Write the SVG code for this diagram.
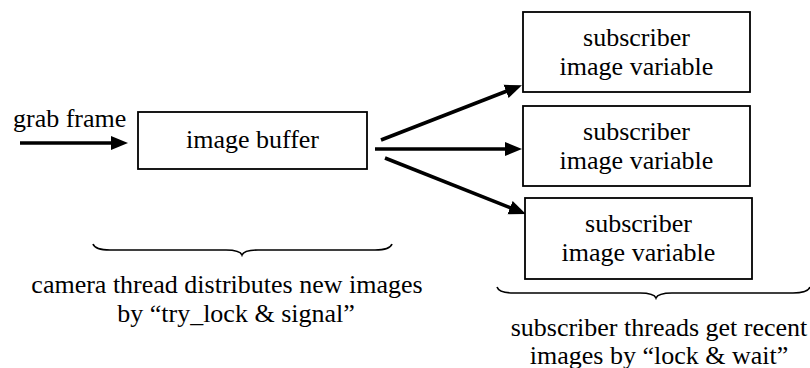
<svg xmlns="http://www.w3.org/2000/svg" width="810" height="368" viewBox="0 0 810 368">
<style>
.box{fill:#fff;stroke:#000;stroke-width:1.8}
text{font-family:'Liberation Serif',Tinos,'Times New Roman','DejaVu Serif',serif;font-size:26px;fill:#000}
.c{text-anchor:middle}
.arr{stroke:#000;stroke-width:3.5;fill:none;marker-end:url(#ah)}
.brace{stroke:#000;stroke-width:1.6;fill:none}
</style>
<defs>
<marker id="ah" markerUnits="userSpaceOnUse" markerWidth="20" markerHeight="16" refX="1" refY="8" orient="auto" viewBox="0 0 20 16">
<path d="M0,1 L17,8 L0,15 z" fill="#000"/>
</marker>
</defs>
<g id="connectors">
<line class="arr" x1="20" y1="143" x2="112" y2="143"/>
<line class="arr" x1="381" y1="140" x2="507" y2="91"/>
<line class="arr" x1="375" y1="149" x2="506" y2="149"/>
<line class="arr" x1="385" y1="158" x2="511" y2="208"/>
</g>
<g id="grab-frame">
<text x="13" y="127">grab frame</text>
</g>
<g id="image-buffer">
<rect class="box" x="138" y="112" width="229" height="57"/>
<text class="c" x="252.5" y="148">image buffer</text>
</g>
<g id="subscriber-1">
<rect class="box" x="523" y="12" width="227" height="80"/>
<text class="c" x="636.5" y="46">subscriber</text>
<text class="c" x="636.5" y="75">image variable</text>
</g>
<g id="subscriber-2">
<rect class="box" x="523" y="106" width="227" height="80"/>
<text class="c" x="636.5" y="140">subscriber</text>
<text class="c" x="636.5" y="169">image variable</text>
</g>
<g id="subscriber-3">
<rect class="box" x="525" y="198" width="227" height="81"/>
<text class="c" x="638.5" y="232">subscriber</text>
<text class="c" x="638.5" y="261">image variable</text>
</g>
<g id="camera-brace">
<path class="brace" d="M93,244 Q95,250 110,250 L226,250 Q240,250 242,255 Q244,250 258,250 L375,250 Q390,250 392,244"/>
<text class="c" x="227" y="293">camera thread distributes new images</text>
<text class="c" x="236" y="322">by “try_lock &amp; signal”</text>
</g>
<g id="subscriber-brace">
<path class="brace" d="M497,287 Q499,293 514,293 L640,293 Q654,293 656,298 Q658,293 672,293 L793,293 Q808,293 810,287"/>
<text class="c" x="659" y="336">subscriber threads get recent</text>
<text class="c" x="659" y="364">images by “lock &amp; wait”</text>
</g>
</svg>
